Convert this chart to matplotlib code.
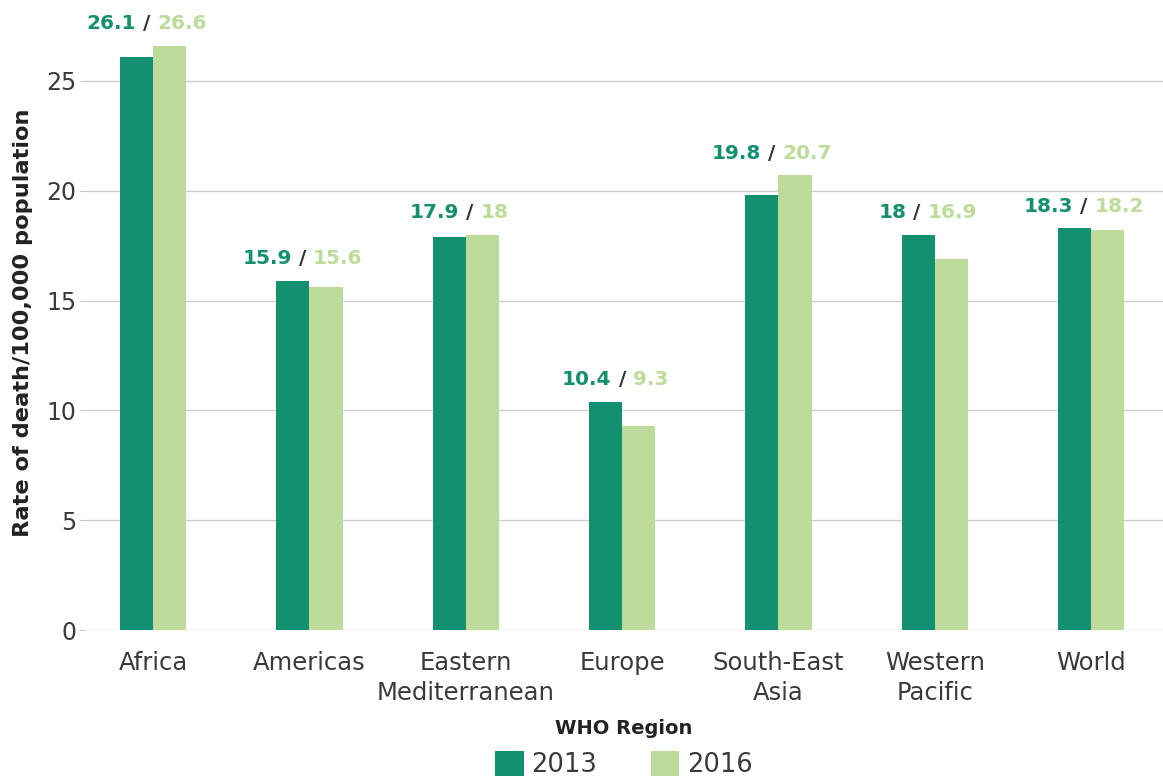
import matplotlib
matplotlib.use("Agg")
import matplotlib.pyplot as plt
from matplotlib.offsetbox import TextArea, HPacker, AnnotationBbox
import numpy as np

regions = ["Africa", "Americas", "Eastern\nMediterranean", "Europe",
           "South-East\nAsia", "Western\nPacific", "World"]
rate_2013 = [26.1, 15.9, 17.9, 10.4, 19.8, 18.0, 18.3]
rate_2016 = [26.6, 15.6, 18.0, 9.3, 20.7, 16.9, 18.2]
label_2013 = ["26.1", "15.9", "17.9", "10.4", "19.8", "18", "18.3"]
label_2016 = ["26.6", "15.6", "18", "9.3", "20.7", "16.9", "18.2"]

dark = "#13906f"
light = "#bddb9a"
text_col = "#3a3a3a"

plt.rcParams['font.family'] = ['DejaVu Sans']

fig = plt.figure(figsize=(11.63, 7.77), dpi=100)
ax = fig.add_axes([85 / 1163, 147 / 777, 1 - 85 / 1163, (630 - 15) / 777])

x = np.arange(len(regions))
w = 0.212
ax.bar(x - w / 2, rate_2013, w, color=dark, label="2013", zorder=3)
ax.bar(x + w / 2, rate_2016, w, color=light, label="2016", zorder=3)

# value labels "2013 / 2016" in two colours
for i in range(len(regions)):
    top = max(rate_2013[i], rate_2016[i])
    props = dict(fontsize=14.5, fontweight="bold")
    parts = [TextArea(label_2013[i], textprops=dict(color=dark, **props)),
             TextArea(" / ", textprops=dict(color="#333333", **props)),
             TextArea(label_2016[i], textprops=dict(color=light, **props))]
    box = HPacker(children=parts, align="baseline", pad=0, sep=0)
    ab = AnnotationBbox(box, (x[i], top), xybox=(-5, 9),
                        boxcoords="offset points", box_alignment=(0.5, 0),
                        frameon=False, pad=0)
    ax.add_artist(ab)

ax.set_xlim(-0.436, 6.46)
ax.set_ylim(0, 28)
ax.set_yticks([0, 5, 10, 15, 20, 25])
ax.set_xticks(x)
ax.set_xticklabels(regions, fontsize=17.5, color=text_col, linespacing=1.3)
ax.tick_params(axis="y", labelsize=17, labelcolor=text_col, length=4,
               color="#cccccc", pad=2)
ax.tick_params(axis="x", length=0, pad=15)
ax.grid(axis="y", color="#cccccc", linewidth=1, zorder=0)
for s in ax.spines.values():
    s.set_visible(False)

ax.set_ylabel("Rate of death/100,000 population", fontsize=16.2,
              fontweight="bold", color="#222222", labelpad=10)

leg = ax.legend(loc="upper center", bbox_to_anchor=(0.5, -0.145), ncol=2,
                frameon=False, fontsize=18.5, title="WHO Region",
                title_fontproperties={"weight": "bold", "size": 14},
                handlelength=1.1, handleheight=1.1, columnspacing=2.1,
                borderaxespad=0, handletextpad=0.3, borderpad=0)
for t in leg.get_texts():
    t.set_color(text_col)
leg.get_title().set_color("#222222")

fig.savefig("out.png", dpi=100)
